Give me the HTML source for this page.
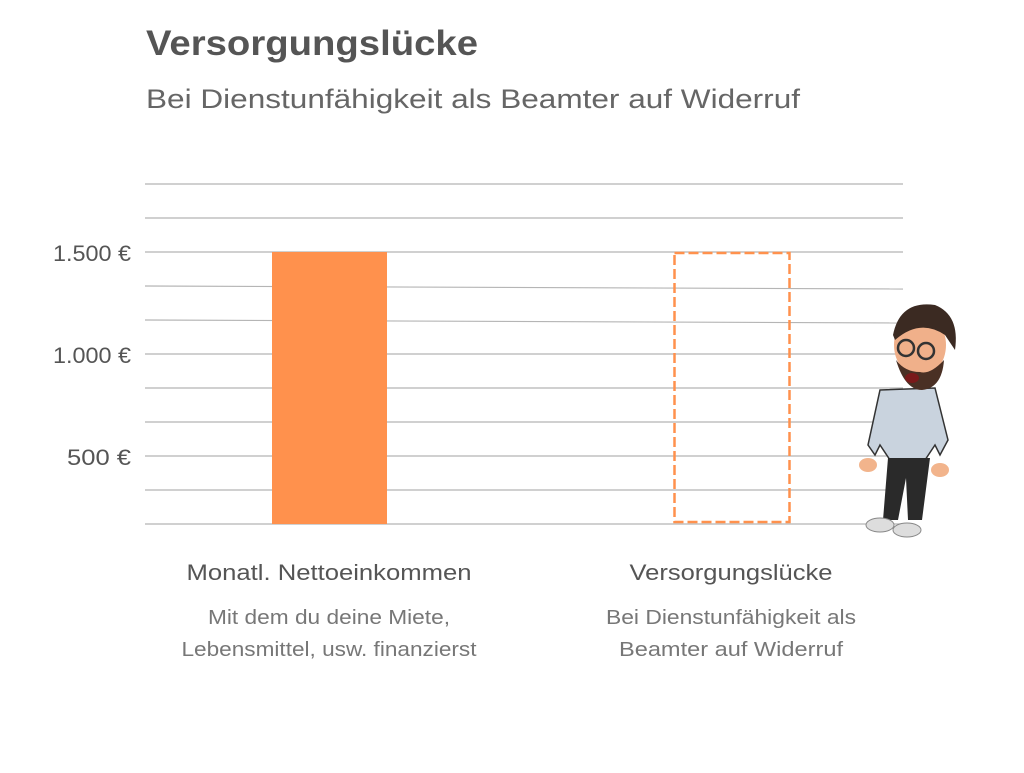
<!DOCTYPE html>
<html><head><meta charset="utf-8"><style>
body{margin:0;width:1024px;height:768px;background:#fff;font-family:"Liberation Sans",sans-serif;overflow:hidden}
</style></head><body>
<svg width="1024" height="768" xmlns="http://www.w3.org/2000/svg" font-family="Liberation Sans, sans-serif">
<text x="146" y="55" font-size="35" font-weight="bold" fill="#555" textLength="332" lengthAdjust="spacingAndGlyphs">Versorgungslücke</text>
<text x="146" y="108" font-size="27" fill="#666" textLength="654" lengthAdjust="spacingAndGlyphs">Bei Dienstunfähigkeit als Beamter auf Widerruf</text>
<g stroke="#b5b5b5" stroke-width="1.2">
<line x1="145" y1="184" x2="903" y2="184"/><line x1="145" y1="218" x2="903" y2="218"/>
<line x1="145" y1="252" x2="903" y2="252"/><line x1="145" y1="286" x2="903" y2="289"/>
<line x1="145" y1="320" x2="903" y2="323"/><line x1="145" y1="354" x2="903" y2="354"/>
<line x1="145" y1="388" x2="903" y2="388"/><line x1="145" y1="422" x2="903" y2="422"/>
<line x1="145" y1="456" x2="903" y2="456"/><line x1="145" y1="490" x2="903" y2="490"/>
<line x1="145" y1="524" x2="903" y2="524"/>
</g>
<g font-size="22" fill="#555" text-anchor="end">
<text x="131" y="261" textLength="78" lengthAdjust="spacingAndGlyphs">1.500 €</text>
<text x="131" y="363" textLength="78" lengthAdjust="spacingAndGlyphs">1.000 €</text>
<text x="131" y="465" textLength="64" lengthAdjust="spacingAndGlyphs">500 €</text>
</g>
<rect x="272" y="252" width="115" height="272" fill="#FF914D"/>
<rect x="674.5" y="253" width="115" height="269" fill="none" stroke="#FF914D" stroke-width="2.5" stroke-dasharray="10,4"/>
<g text-anchor="middle">
<text x="329" y="580" font-size="22" fill="#555" textLength="285" lengthAdjust="spacingAndGlyphs">Monatl. Nettoeinkommen</text>
<text x="329" y="624" font-size="20" fill="#777" textLength="242" lengthAdjust="spacingAndGlyphs">Mit dem du deine Miete,</text>
<text x="329" y="656" font-size="20" fill="#777" textLength="295" lengthAdjust="spacingAndGlyphs">Lebensmittel, usw. finanzierst</text>
<text x="731" y="580" font-size="22" fill="#555" textLength="203" lengthAdjust="spacingAndGlyphs">Versorgungslücke</text>
<text x="731" y="624" font-size="20" fill="#777" textLength="250" lengthAdjust="spacingAndGlyphs">Bei Dienstunfähigkeit als</text>
<text x="731" y="656" font-size="20" fill="#777" textLength="224" lengthAdjust="spacingAndGlyphs">Beamter auf Widerruf</text>
</g>
<g>
<path d="M880 390 L935 388 L948 440 L940 455 L935 445 L925 460 L890 460 L880 445 L875 455 L868 445 Z" fill="#c9d3de" stroke="#333" stroke-width="1.5"/>
<path d="M888 458 L930 458 L922 520 L908 520 L906 478 L898 520 L883 520 Z" fill="#2a2a2a"/>
<ellipse cx="880" cy="525" rx="14" ry="7" fill="#ddd" stroke="#888"/>
<ellipse cx="907" cy="530" rx="14" ry="7" fill="#ddd" stroke="#888"/>
<ellipse cx="868" cy="465" rx="9" ry="7" fill="#f2b48c"/>
<ellipse cx="940" cy="470" rx="9" ry="7" fill="#f2b48c"/>
<ellipse cx="920" cy="345" rx="26" ry="32" fill="#f0b08a"/>
<path d="M893 335 Q900 300 935 305 Q960 315 955 350 L945 335 Q920 318 895 340 Z" fill="#3b2a22"/>
<path d="M896 360 Q905 390 922 390 Q942 388 944 360 Q930 375 920 372 Q905 372 896 360 Z" fill="#4a3024"/>
<ellipse cx="912" cy="378" rx="7" ry="5" fill="#7a1a1a"/>
<circle cx="906" cy="348" r="8" fill="none" stroke="#333" stroke-width="2.5"/>
<circle cx="926" cy="351" r="8" fill="none" stroke="#333" stroke-width="2.5"/>
</g>
</svg>
</body></html>
